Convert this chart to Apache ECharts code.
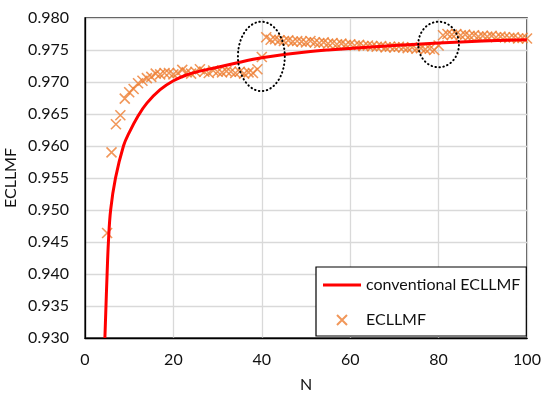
<!DOCTYPE html>
<html>
<head>
<meta charset="utf-8">
<script src="https://cdn.jsdelivr.net/npm/echarts@6/dist/echarts.min.js"></script>
<style>
html,body{margin:0;padding:0;background:#fff;}
#c{width:542px;height:398px;}
</style>
</head>
<body>
<div id="c"></div>
<script>
// ECLLMF markers: N and values
const markerN = [];
for (let n = 5; n <= 100; n++) markerN.push(n);
const markerVals = [
  0.9464, 0.9590, 0.9634, 0.9648, 0.9674, 0.9684, 0.9689, 0.9698, 0.9702, 0.9706,
  0.9708, 0.9713, 0.9712, 0.9714, 0.9714, 0.9712, 0.9714, 0.9719, 0.9715, 0.9713,
  0.9716, 0.9720, 0.9716, 0.9714, 0.9718, 0.9716, 0.9715, 0.9717, 0.9716, 0.9714,
  0.9716, 0.9713, 0.9715, 0.9714, 0.9720, 0.9739, 0.9770, 0.9766, 0.9767, 0.9765,
  0.9764, 0.9765, 0.9763, 0.9764, 0.9763, 0.9762, 0.9764, 0.9762, 0.9761, 0.9762,
  0.9760, 0.9761, 0.9759, 0.9760, 0.9758, 0.9759, 0.9757, 0.9758, 0.9756, 0.9757,
  0.9756, 0.9755, 0.9756, 0.9754, 0.9755, 0.9754, 0.9755, 0.9754, 0.9753, 0.9754,
  0.9752, 0.9753, 0.9751, 0.9752, 0.9750, 0.9757, 0.9773, 0.9775, 0.9774, 0.9775,
  0.9773, 0.9774, 0.9772, 0.9773, 0.9771, 0.9772, 0.9771, 0.9772, 0.9770, 0.9771,
  0.9770, 0.9769, 0.9770, 0.9768, 0.9769, 0.9768
];
// conventional ECLLMF curve
const convN    = [4.5, 5.0, 5.3, 5.8, 6.9, 8.7, 10, 12, 14, 17, 20, 23, 26, 30, 35, 40, 45, 50, 55, 63, 70, 80, 90, 100];
const convVals = [0.930, 0.940, 0.945, 0.950, 0.955, 0.960, 0.9621, 0.9647, 0.9667, 0.9688, 0.9702, 0.9711, 0.9717, 0.9723, 0.9731, 0.9738, 0.9743, 0.9747, 0.9750, 0.9754, 0.9757, 0.9761, 0.9764, 0.9766];
// x tick labels / y range
const xTicks = [0, 20, 40, 60, 80, 100];
const yMin = 0.930, yMax = 0.980, yStep = 0.005;
// dotted ellipses annotations (data units): [centerN, centerVal, radiusN, radiusVal]
const ellipses = [[39.9, 0.9740, 5.3, 0.00542], [80.0, 0.97586, 4.6, 0.00356]];

const font = 'Lato, "Open Sans", sans-serif';
const chart = echarts.init(document.getElementById('c'));
const option = {
  animation: false,
  grid: {left: 85, right: 15, top: 18, bottom: 60, show: true, borderColor: '#000', borderWidth: 1.3,
         containLabel: false, outerBoundsMode: 'none'},
  legend: {
    left: 316, top: 267, orient: 'vertical',
    backgroundColor: '#fff', borderColor: '#000', borderWidth: 1.2,
    padding: [10, 6, 8, 7], itemGap: 19, itemWidth: 38, itemHeight: 14,
    symbolKeepAspect: true,
    textStyle: {fontFamily: font, fontSize: 16, color: '#111'},
    data: [
      {name: 'conventional ECLLMF', icon: 'path://M0,0L38,0L38,3L0,3Z'},
      {name: 'ECLLMF', icon: 'path://M-2,-2M0,0L10,10M10,0L0,10M12,12'}
    ]
  },
  xAxis: {
    type: 'value', min: xTicks[0], max: xTicks[xTicks.length - 1], interval: 20,
    name: 'N', nameLocation: 'middle', nameGap: 39, nameMoveOverlap: false,
    nameTextStyle: {fontFamily: font, fontSize: 16, color: '#111'},
    axisLine: {show: true, lineStyle: {color: '#000', width: 1.3}},
    axisTick: {show: false},
    axisLabel: {fontFamily: font, fontSize: 16, color: '#111', margin: 14},
    splitLine: {show: true, lineStyle: {color: '#d9d9d9', width: 1.3}}
  },
  yAxis: {
    type: 'value', min: yMin, max: yMax, interval: yStep,
    name: 'ECLLMF', nameLocation: 'middle', nameGap: 66, nameRotate: 90, nameMoveOverlap: false,
    nameTextStyle: {fontFamily: font, fontSize: 16, color: '#111'},
    axisLine: {show: true, lineStyle: {color: '#000', width: 1.3}},
    axisTick: {show: false},
    axisLabel: {fontFamily: font, fontSize: 16, color: '#111', margin: 16, formatter: v => v.toFixed(3)},
    splitLine: {show: true, lineStyle: {color: '#d9d9d9', width: 1.3}}
  },
  series: [
    {
      name: 'ECLLMF', type: 'scatter', z: 2,
      symbol: 'path://M0,0L10,10M10,0L0,10', symbolSize: 10,
      itemStyle: {color: '#ED7D31', borderColor: '#ED7D31', borderWidth: 1.6},
      data: markerN.map((n, i) => [n, markerVals[i]])
    },
    {
      name: 'conventional ECLLMF', type: 'line', z: 3,
      symbol: 'none', smooth: 0.4,
      lineStyle: {color: '#FF0000', width: 3},
      itemStyle: {color: '#FF0000'},
      data: convN.map((n, i) => [n, convVals[i]])
    }
  ]
};
chart.setOption(option);
const g = ellipses.map(e => {
  const c = chart.convertToPixel({gridIndex: 0}, [e[0], e[1]]);
  const px = chart.convertToPixel({gridIndex: 0}, [e[0] + e[2], e[1] + e[3]]);
  return {
    type: 'ellipse', z: 10,
    shape: {cx: c[0], cy: c[1], rx: Math.abs(px[0] - c[0]), ry: Math.abs(px[1] - c[1])},
    style: {fill: 'none', stroke: '#000', lineWidth: 2, lineDash: [0.5, 3.5], lineCap: 'round'}
  };
});
chart.setOption({graphic: g});
</script>
</body>
</html>
